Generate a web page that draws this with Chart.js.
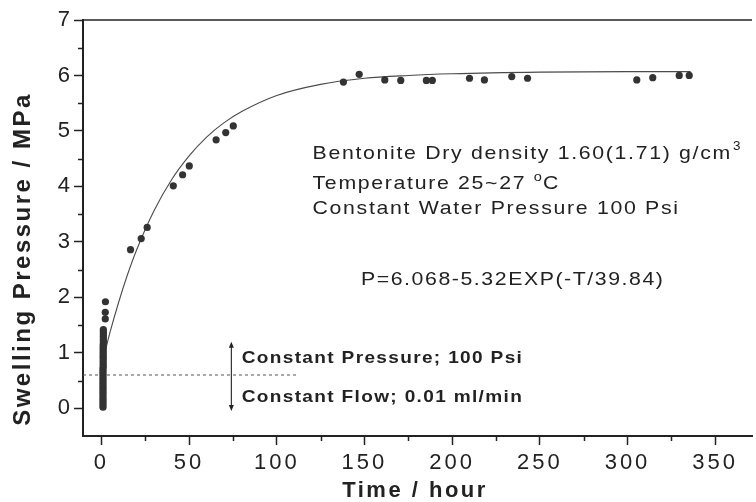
<!DOCTYPE html>
<html>
<head>
<meta charset="utf-8">
<script src="https://cdn.jsdelivr.net/npm/chart.js@4/dist/chart.umd.min.js"></script>
<style>
    body { margin: 0; background: #fff; }
</style>
</head>
<body>
<canvas id="myChart" width="756" height="502"></canvas>
<script>
// readings near t = 0 (dense column of early readings)
var earlyT = [0.9, 0.9, 0.9, 0.9, 0.9, 0.9, 0.9, 0.9, 0.9, 0.9, 0.9, 0.9, 0.9, 0.9, 0.9, 0.9, 0.9, 0.9,
              1.0, 1.0, 1.0, 1.0, 1.0, 1.0, 1.0, 1.0, 1.0, 1.0, 1.0, 1.1, 1.1, 1.1, 1.1, 1.1, 1.1, 1.1,
              2.2, 2.2, 2.3];
var earlyP = [0.02, 0.06, 0.10, 0.14, 0.18, 0.22, 0.26, 0.30, 0.34, 0.38, 0.42, 0.46, 0.50, 0.54, 0.58, 0.62, 0.66, 0.70,
              0.74, 0.78, 0.82, 0.86, 0.90, 0.94, 0.98, 1.02, 1.06, 1.10, 1.14, 1.18, 1.22, 1.26, 1.30, 1.34, 1.38, 1.42,
              1.61, 1.73, 1.92];
// later readings
var laterT = [16.6, 22.7, 26.1, 41.0, 46.3, 50.1, 65.4, 70.9, 75.2, 138, 147, 161.6, 170.7, 185.3, 188.7,
              209.9, 218.4, 234, 243, 305.3, 314.4, 329.5, 335.2];
var laterP = [2.86, 3.06, 3.26, 4.01, 4.21, 4.37, 4.84, 4.97, 5.09, 5.88, 6.02, 5.92, 5.91, 5.91, 5.91,
              5.95, 5.92, 5.98, 5.95, 5.92, 5.96, 6.00, 6.00];
// fitted curve
var fitT = [2, 5, 10, 15, 20, 30, 40, 50, 60, 70, 80, 100, 125, 150, 175, 200, 250, 300, 336];
var fitP = [1.01, 1.38, 1.93, 2.42, 2.85, 3.56, 4.12, 4.55, 4.89, 5.15, 5.35, 5.64, 5.84, 5.95, 6.00, 6.03, 6.06, 6.07, 6.07];
// constant flow / constant pressure split
var splitT = [-10.5, 112.5];
var splitP = [0.6, 0.6];

var xTicks = [0, 50, 100, 150, 200, 250, 300, 350];
var xMinorTicks = [25, 75, 125, 175, 225, 275, 325];
var yTicks = [0, 1, 2, 3, 4, 5, 6, 7];
var yMinorTicks = [0.5, 1.5, 2.5, 3.5, 4.5, 5.5, 6.5];

var xTitle = 'Time / hour';
var yTitle = 'Swelling Pressure / MPa';
var noteDensity = 'Bentonite Dry density 1.60(1.71) g/cm';
var noteTemp = 'Temperature 25~27 ';
var noteWater = 'Constant Water Pressure 100 Psi';
var noteFit = 'P=6.068-5.32EXP(-T/39.84)';
var notePressure = 'Constant Pressure; 100 Psi';
var noteFlow = 'Constant Flow; 0.01 ml/min';

var INK = '#222';
var FONT = '"Liberation Sans", Arial, sans-serif';
var STRETCH = 1.12;

function toXY(xs, ys) {
    return xs.map(function (v, i) { return { x: v, y: ys[i] }; });
}

// draws text a little wider, like the scanned original; returns the drawn width
function spacedText(ctx, str, x, y, font, spacing) {
    ctx.save();
    ctx.font = font;
    ctx.letterSpacing = spacing + 'px';
    ctx.translate(x, y);
    ctx.scale(STRETCH, 1);
    ctx.fillText(str, 0, 0);
    var w = ctx.measureText(str).width * STRETCH;
    ctx.restore();
    return w;
}

var paperPlugin = {
    id: 'paper',
    beforeDraw: function (chart) {
        chart.ctx.letterSpacing = '3px';
    },
    afterDraw: function (chart) {
        var ctx = chart.ctx;
        var xs = chart.scales.x;
        var ys = chart.scales.y;
        var area = chart.chartArea;
        ctx.save();
        ctx.strokeStyle = INK;
        ctx.fillStyle = INK;

        // top frame line
        ctx.lineWidth = 1.5;
        ctx.beginPath();
        ctx.moveTo(area.left, area.top);
        ctx.lineTo(area.right, area.top);
        ctx.stroke();

        // minor ticks
        ctx.lineWidth = 1.5;
        ctx.beginPath();
        xMinorTicks.forEach(function (t) {
            var px = Math.round(xs.getPixelForValue(t)) + 0.5;
            ctx.moveTo(px, area.bottom);
            ctx.lineTo(px, area.bottom + 5);
        });
        yMinorTicks.forEach(function (p) {
            var py = Math.round(ys.getPixelForValue(p)) + 0.5;
            ctx.moveTo(area.left, py);
            ctx.lineTo(area.left - 5, py);
        });
        ctx.stroke();

        // double arrow between the two regimes
        var ax = xs.getPixelForValue(74.1);
        var aTop = ys.getPixelForValue(1.2);
        var aBot = ys.getPixelForValue(-0.05);
        ctx.lineWidth = 1.1;
        ctx.beginPath();
        ctx.moveTo(ax, aTop + 3);
        ctx.lineTo(ax, aBot - 3);
        ctx.stroke();
        ctx.beginPath();
        ctx.moveTo(ax, aTop);
        ctx.lineTo(ax - 2.5, aTop + 6);
        ctx.lineTo(ax + 2.5, aTop + 6);
        ctx.closePath();
        ctx.moveTo(ax, aBot);
        ctx.lineTo(ax - 2.5, aBot - 6);
        ctx.lineTo(ax + 2.5, aBot - 6);
        ctx.closePath();
        ctx.fill();

        // notes
        ctx.textAlign = 'left';
        ctx.textBaseline = 'alphabetic';
        var noteFont = '19px ' + FONT;
        var nx = xs.getPixelForValue(120.4);
        var w = spacedText(ctx, noteDensity, nx, ys.getPixelForValue(4.49), noteFont, 1.5);
        spacedText(ctx, '3', nx + w + 1, ys.getPixelForValue(4.49) - 9, '12px ' + FONT, 0);
        var ty = ys.getPixelForValue(3.95);
        w = spacedText(ctx, noteTemp, nx, ty, noteFont, 1.5);
        var wo = spacedText(ctx, 'o', nx + w, ty - 8, '13px ' + FONT, 0);
        spacedText(ctx, 'C', nx + w + wo + 1, ty, noteFont, 1.5);
        spacedText(ctx, noteWater, nx, ys.getPixelForValue(3.50), noteFont, 1.5);
        spacedText(ctx, noteFit, xs.getPixelForValue(148), ys.getPixelForValue(2.22), noteFont, 1.4);
        var boldFont = 'bold 17px ' + FONT;
        spacedText(ctx, notePressure, xs.getPixelForValue(80), ys.getPixelForValue(0.82), boldFont, 1.2);
        spacedText(ctx, noteFlow, xs.getPixelForValue(80), ys.getPixelForValue(0.11), boldFont, 1.2);

        // axis titles
        ctx.textAlign = 'center';
        ctx.font = 'bold 22px ' + FONT;
        ctx.letterSpacing = '2.5px';
        ctx.fillText(xTitle, 415, 497);
        ctx.translate(23, 259);
        ctx.rotate(-Math.PI / 2);
        ctx.textBaseline = 'middle';
        ctx.font = 'bold 24px ' + FONT;
        ctx.letterSpacing = '2.5px';
        ctx.fillText(yTitle, 0, 0);
        ctx.restore();
    }
};

var ctx = document.getElementById('myChart').getContext('2d');
var chart = new Chart(ctx, {
    type: 'scatter',
    data: {
        datasets: [{
            label: 'Measured',
            data: toXY(earlyT, earlyP).concat(toXY(laterT, laterP)),
            backgroundColor: '#333',
            borderWidth: 0,
            pointRadius: 3.6,
            order: 0
        }, {
            type: 'line',
            label: 'Fit',
            data: toXY(fitT, fitP),
            borderColor: '#4a4a4a',
            borderWidth: 1.1,
            pointRadius: 0,
            fill: false,
            cubicInterpolationMode: 'monotone',
            order: 1
        }, {
            type: 'line',
            label: 'Split',
            data: toXY(splitT, splitP),
            borderColor: '#555',
            borderWidth: 1,
            borderDash: [3, 3],
            pointRadius: 0,
            fill: false,
            order: 2
        }]
    },
    options: {
        responsive: false,
        animation: false,
        layout: { padding: { top: 20, right: 0, bottom: 0, left: 0 } },
        plugins: {
            legend: { display: false },
            tooltip: { enabled: false }
        },
        scales: {
            x: {
                type: 'linear',
                min: -10.5,
                max: 371,
                afterBuildTicks: function (axis) {
                    axis.ticks = xTicks.map(function (v) { return { value: v }; });
                },
                afterFit: function (axis) { axis.height = 66; },
                grid: { drawOnChartArea: false, tickLength: 9, tickWidth: 1.5, tickColor: INK },
                border: { display: true, color: INK, width: 2 },
                ticks: { color: INK, font: { family: FONT, size: 22 }, padding: 5, maxRotation: 0, autoSkip: false }
            },
            y: {
                type: 'linear',
                min: -0.5,
                max: 7,
                afterBuildTicks: function (axis) {
                    axis.ticks = yTicks.map(function (v) { return { value: v }; });
                },
                afterFit: function (axis) { axis.width = 83; },
                grid: { drawOnChartArea: false, tickLength: 9, tickWidth: 1.5, tickColor: INK },
                border: { display: true, color: INK, width: 2 },
                ticks: { color: INK, font: { family: FONT, size: 22 }, padding: 1, autoSkip: false }
            }
        }
    },
    plugins: [paperPlugin]
});
</script>
</body>
</html>
